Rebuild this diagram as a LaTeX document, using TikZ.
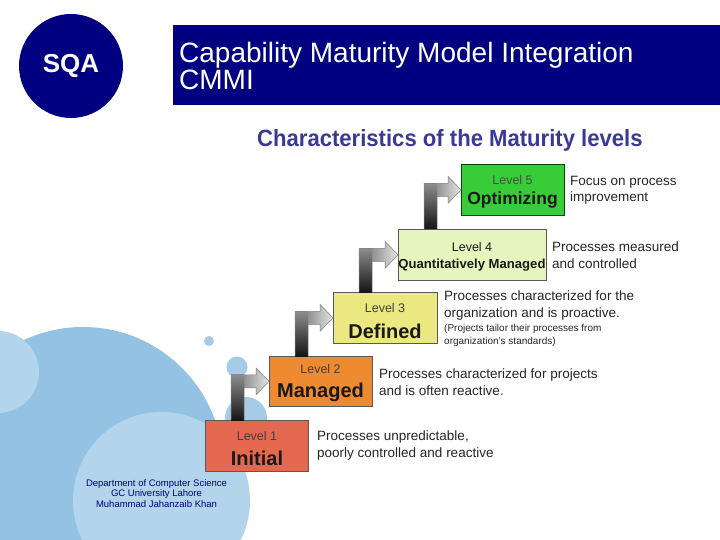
\documentclass[tikz,border=0pt]{standalone}
\usepackage{fontspec}
\usepackage{graphicx}
\setmainfont{Liberation Sans}
\usetikzlibrary{calc}
\definecolor{navy}{RGB}{0,0,128}
\definecolor{bigblue}{RGB}{148,194,226}
\definecolor{lightblue}{RGB}{178,213,236}
\definecolor{dotblue}{RGB}{165,203,231}
\definecolor{headblue}{RGB}{58,58,150}
\definecolor{lvfive}{RGB}{56,204,56}
\definecolor{lvfour}{RGB}{230,245,190}
\definecolor{lvthree}{RGB}{235,232,130}
\definecolor{lvtwo}{RGB}{238,138,48}
\definecolor{lvone}{RGB}{228,104,80}
\newcommand\fs[2]{\fontsize{#1}{#2}\selectfont}
\newcommand\stairarrow[2]{%
  % arm and head
  \path[armshade] let \p1=(#1.north west), \p2=(#2.west) in
   (\x1+26pt,\y2+6.5pt) -- (\x2-13pt,\y2+6.5pt) -- (\x2-13pt,\y2+13.5pt)
   -- (\x2,\y2) -- (\x2-13pt,\y2-13.5pt) -- (\x2-13pt,\y2-6.5pt) -- (\x1+26pt,\y2-6.5pt) -- cycle;
  % shaft
  \path[shaftshade] let \p1=(#1.north west), \p2=(#2.west) in
   (\x1+26pt,\y1) rectangle (\x1+39pt,\y2+6.5pt);
  % outline
  \path[stairline] let \p1=(#1.north west), \p2=(#2.west) in
   (\x1+26pt,\y1) -- (\x1+26pt,\y2+6.5pt) -- (\x2-13pt,\y2+6.5pt) -- (\x2-13pt,\y2+13.5pt)
   -- (\x2,\y2) -- (\x2-13pt,\y2-13.5pt) -- (\x2-13pt,\y2-6.5pt) -- (\x1+39pt,\y2-6.5pt)
   -- (\x1+39pt,\y1);}
\begin{document}
\begin{tikzpicture}[x=1pt,y=-1pt,
  levelbox/.style={draw=black!65,line width=0.7pt,anchor=north west,inner sep=0pt},
  lvtext/.style={font=\fs{12.5}{15},text=black!75,inner sep=0pt},
  lvname/.style={font=\fs{20}{24}\bfseries,text=black!90,inner sep=0pt},
  desc/.style={font=\fs{13.5}{17.5},text=black!85,align=left,anchor=west,inner sep=0pt},
  smalldesc/.style={font=\fs{10}{13},text=black!85,align=left,anchor=west,inner sep=0pt},
  armshade/.style={left color=black!60,right color=black!10},
  shaftshade/.style={top color=black!45,bottom color=black!92},
  stairline/.style={draw=black!50,line width=0.5pt},
  bubble/.style={circle,inner sep=0pt,draw=none}]
\useasboundingbox (0,0) rectangle (720,540);
\fill[white] (0,0) rectangle (720,540);
% background bubbles
\node[bubble,fill=bigblue,minimum size=280pt] (bg1) at (83,467) {};
\node[bubble,fill=lightblue,minimum size=82pt] (bg2) at (-2,372) {};
\node[bubble,fill=lightblue,minimum size=177pt] (bg3) at (161.5,500.5) {};
\node[bubble,fill=dotblue,minimum size=10pt] (bg4) at (209,341) {};
\node[bubble,fill=dotblue,minimum size=21pt] (bg5) at (237,367) {};
\node[bubble,fill=dotblue,minimum size=42pt] (bg6) at (246,418) {};
% header
\node[circle,fill=navy,minimum size=104pt,inner sep=0pt,text=white,font=\fs{26}{30}\bfseries] (sqa) at (71,66) {SQA};
\fill[navy] (173,25) rectangle (720,105);
\node[anchor=base west,text=white,font=\fs{28}{27},align=left,inner sep=0pt] (title) at (179,90) {Capability Maturity Model Integration\\CMMI};
\node[anchor=base west,inner sep=0pt,text=headblue,font=\fs{23.5}{28}\bfseries] (head) at (257,147) {\scalebox{0.94}[1]{Characteristics of the Maturity levels}};
% boxes
\node[levelbox,fill=lvone,minimum width=103pt,minimum height=51pt] (b1) at (205,420) {};
\node[levelbox,fill=lvtwo,minimum width=103pt,minimum height=50pt] (b2) at (269,356) {};
\node[levelbox,fill=lvthree,minimum width=104pt,minimum height=51pt] (b3) at (333,292) {};
\node[levelbox,fill=lvfour,minimum width=148pt,minimum height=51pt] (b4) at (398,229) {};
\node[levelbox,fill=lvfive,draw=black!55!green!60!black,minimum width=103pt,minimum height=51pt] (b5) at (461,164) {};
\stairarrow{b1}{b2}
\stairarrow{b2}{b3}
\stairarrow{b3}{b4}
\stairarrow{b4}{b5}
% box texts
\node[lvtext] (t1a) at (257,436) {Level 1};
\node[lvname] (t1b) at (257,458) {Initial};
\node[lvtext] (t2a) at (320.5,369) {Level 2};
\node[lvname] (t2b) at (320.5,392) {Managed};
\node[lvtext] (t3a) at (385,308) {Level 3};
\node[lvname] (t3b) at (385,331) {Defined};
\node[lvtext,text=black!90] (t4a) at (472,247) {Level 4};
\node[lvname,font=\fs{13.1}{16}\bfseries] (t4b) at (472,265) {Quantitatively Managed};
\node[lvtext,text=black!70] (t5a) at (512.5,180) {Level 5};
\node[lvname,font=\fs{17.5}{21}\bfseries] (t5b) at (512.5,200) {Optimizing};
% descriptions
\node[desc] (d1) at (317,445.5) {Processes unpredictable,\\poorly controlled and reactive};
\node[desc] (d2) at (379,382) {Processes characterized for projects\\and is often reactive.};
\node[desc] (d3) at (444,305.5) {Processes characterized for the\\organization and is proactive.};
\node[smalldesc] (d3s) at (444,335) {(Projects tailor their processes from\\organization’s standards)};
\node[desc] (d4) at (552,255) {Processes measured\\and controlled};
\node[desc,font=\fs{13.5}{16.5}] (d5) at (570,190.5) {Focus on process\\improvement};
% footer
\node[text=navy,font=\fs{9.5}{10.5},align=center,inner sep=0pt] (foot) at (156.5,493.5) {Department of Computer Science\\GC University Lahore\\Muhammad Jahanzaib Khan};
\end{tikzpicture}
\end{document}
